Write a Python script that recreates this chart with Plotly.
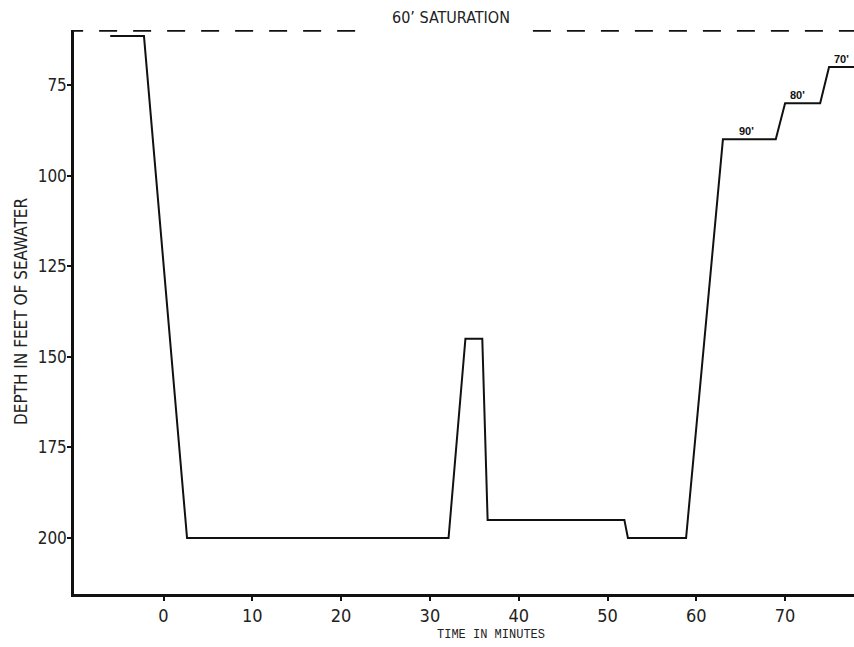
import plotly.graph_objects as go

# ---- data ----
time_min = [-6.0, -2.2, 2.65, 32.1, 34.0, 35.9, 36.5, 51.9, 52.3, 58.85,
            63.0, 68.95, 70.0, 73.95, 74.95, 79.0]
depth_fsw = [61.5, 61.5, 200, 200, 145, 145, 195, 195, 200, 200,
             90, 90, 80, 80, 70, 70]

saturation_depth = 60
saturation_label = "60\u2019 SATURATION"
saturation_gap = [23.26, 41.6]          # where the dashed line is broken for its label

stop_labels = ["90'", "80'", "70'"]
stop_depths = [90, 80, 70]
stop_label_times = [65.6, 71.35, 76.4]

x_ticks = [0, 10, 20, 30, 40, 50, 60, 70]
y_ticks = [75, 100, 125, 150, 175, 200]

x_range = [-10.08, 77.76]
y_range = [215.45, 59.82]

x_title = "TIME IN MINUTES"
y_title = "DEPTH IN FEET OF SEAWATER"

NARROW = "Liberation Sans Narrow, DejaVu Sans Condensed, Arial Narrow, sans-serif"
MONO = "Liberation Mono, Courier New, monospace"

fig = go.Figure()

# dashed saturation line, broken for its label
fig.add_trace(go.Scatter(
    x=[x_range[0] - 1, saturation_gap[0], None, saturation_gap[1], x_range[1] + 5],
    y=[saturation_depth, saturation_depth, None, saturation_depth, saturation_depth],
    mode="lines", line=dict(color="#111", width=2, dash="18px,16px"),
    connectgaps=False, hoverinfo="skip", showlegend=False,
))

# dive profile
fig.add_trace(go.Scatter(
    x=time_min, y=depth_fsw, mode="lines",
    line=dict(color="#111", width=2), showlegend=False,
))

annotations = [
    dict(x=(saturation_gap[0] + saturation_gap[1]) / 2, y=saturation_depth,
         xref="x", yref="y", text=saturation_label, showarrow=False,
         yanchor="middle", yshift=13,
         font=dict(family=NARROW, size=16, color="#222")),
    dict(x=0, y=0.5, xref="paper", yref="paper", text=y_title, showarrow=False,
         textangle=-90, xanchor="center", yanchor="middle", xshift=-53,
         font=dict(family=NARROW, size=17, color="#222")),
    dict(x=0, y=0, xref="paper", yref="paper", text=x_title, showarrow=False,
         xanchor="center", yanchor="middle", xshift=417, yshift=-41,
         font=dict(family=MONO, size=12, color="#222")),
]
for lab, d, t in zip(stop_labels, stop_depths, stop_label_times):
    annotations.append(dict(x=t, y=d, xref="x", yref="y", text="<b>%s</b>" % lab,
                            showarrow=False, yanchor="bottom", yshift=0,
                            font=dict(family="Liberation Sans, Arial, sans-serif",
                                      size=11, color="#111")))

fig.update_layout(
    width=854, height=647,
    margin=dict(l=74, r=0, t=30, b=53, pad=0),
    paper_bgcolor="white", plot_bgcolor="white",
    annotations=annotations,
    xaxis=dict(range=x_range, tickvals=x_ticks, showgrid=False, zeroline=False,
               showline=True, linecolor="#111", linewidth=2.5,
               ticks="outside", ticklen=4, tickwidth=2, tickcolor="#111",
               tickfont=dict(family=NARROW, size=18, color="#222")),
    yaxis=dict(range=y_range, tickvals=y_ticks, showgrid=False, zeroline=False,
               showline=True, linecolor="#111", linewidth=2.5,
               ticks="outside", ticklen=4, tickwidth=2, tickcolor="#111",
               ticklabelstandoff=-3,
               tickfont=dict(family=NARROW, size=17, color="#222")),
)

fig.write_html("out.html", config={"displayModeBar": False},
               post_script="document.body.style.margin='0';document.body.style.overflow='hidden';")
